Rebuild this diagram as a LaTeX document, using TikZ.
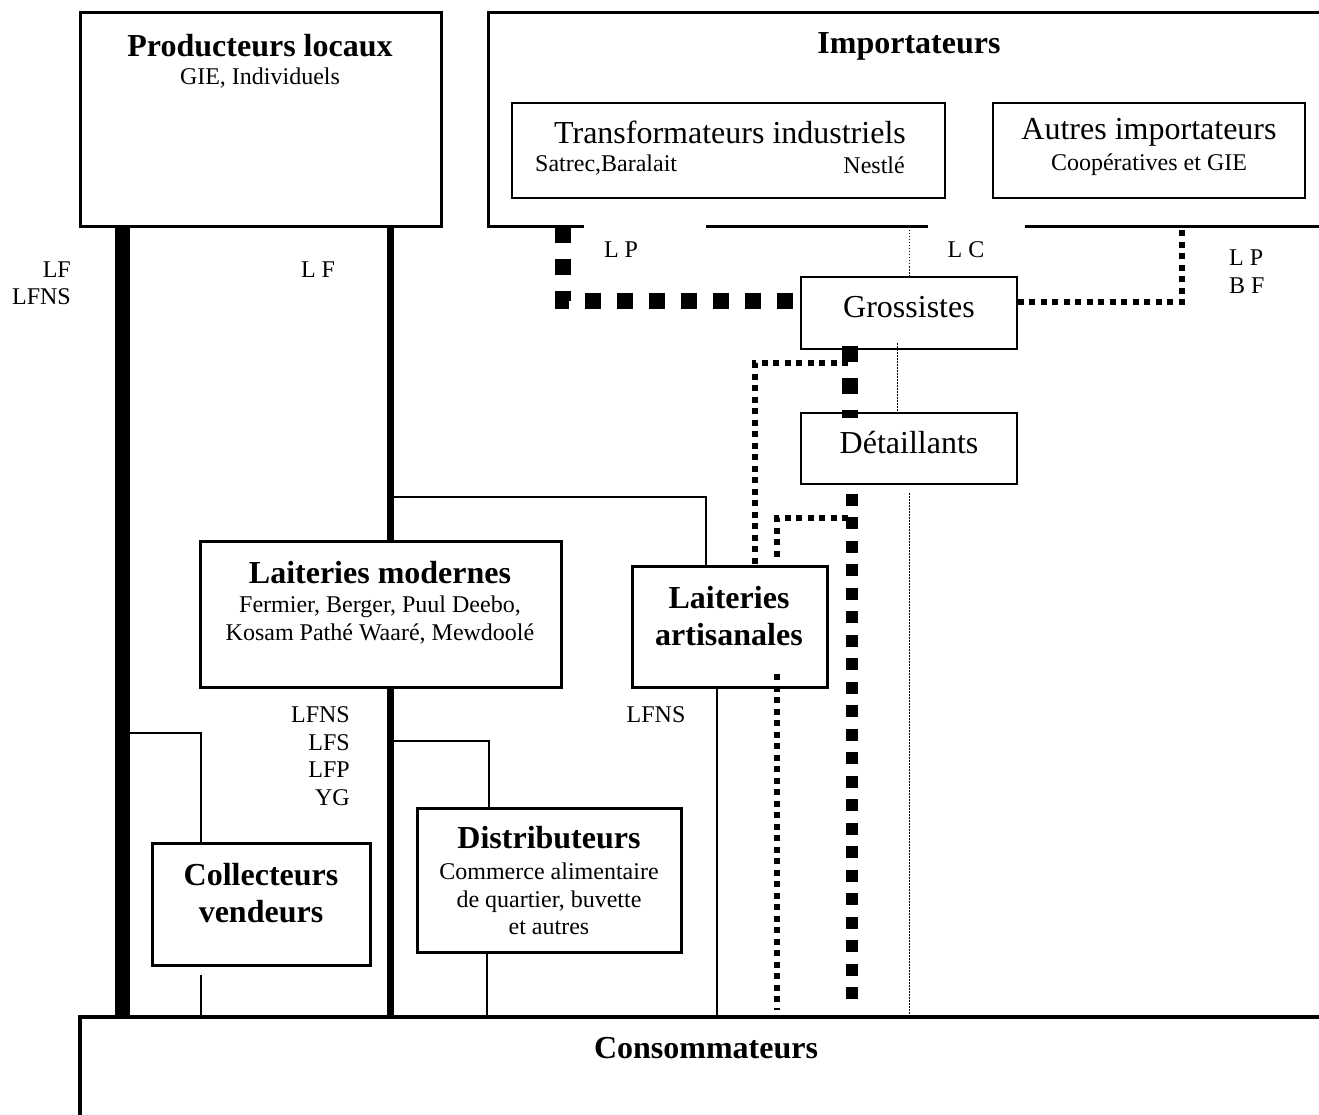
\documentclass[tikz,border=0pt]{standalone}
\usepackage{fontspec}
\setmainfont{Liberation Serif}
\usepackage{tikz}

\newcommand{\bigtxt}{\fontsize{32}{37}\selectfont}
\newcommand{\smalltxt}{\fontsize{24}{27.5}\selectfont}

\begin{document}
\begin{tikzpicture}[x=1pt,y=-1pt,
        box/.style={draw,line width=3pt,inner sep=0pt},
        thinbox/.style={draw,line width=1.2pt,inner sep=0pt},
        headline/.style={font=\bigtxt\bfseries,inner sep=0pt,align=center},
        bodytext/.style={font=\bigtxt,inner sep=0pt},
        lbl/.style={font=\smalltxt,inner sep=0pt,align=center},
        trunk/.style={line width=15pt},
        branch/.style={line width=7pt},
        link/.style={line width=1.2pt},
        flowA/.style={line width=16pt,dash pattern=on 16pt off 16pt},
        flowB/.style={line width=12pt,dash pattern=on 12pt off 11.5pt},
        flowM/.style={line width=6pt,dash pattern=on 6pt off 5.5pt},
        flowT/.style={line width=1pt,dash pattern=on 1.5pt off 1.5pt}]

    \useasboundingbox (0,0) rectangle (1319,1115);

    % boxes
    \node[box, minimum width=361pt, minimum height=214pt] (prod) at (260.5,120) {};
    \node[headline] (prodT) at (260,46) {Producteurs locaux};
    \node[lbl] (prodS) at (260,78) {GIE, Individuels};

    \node[thinbox, minimum width=433pt, minimum height=95pt] (trans) at (728.5,150.5) {};
    \node[bodytext] (transT) at (730,132) {Transformateurs industriels};
    \node[lbl, anchor=west] (transA) at (535,165) {Satrec,Baralait};
    \node[lbl, anchor=east] (transB) at (905,165) {Nestlé};

    \node[thinbox, minimum width=312pt, minimum height=95pt] (autres) at (1149,150.5) {};
    \node[bodytext] (autresT) at (1149,132) {Autres importateurs};
    \node[lbl] (autresS) at (1149,165) {Coopératives et GIE};

    \node[headline] (impT) at (909,46) {Importateurs};
    \draw[line width=3pt] (1325,13) -- (488,13) -- (488,227) -- (584,227);
    \draw[line width=3pt] (706,227) -- (928,227);
    \draw[line width=3pt] (1025,227) -- (1325,227);
    \coordinate (impLP) at (563,227);
    \coordinate (impLC) at (909,227);
    \coordinate (impBF) at (1182,227);

    \node[thinbox, minimum width=216pt, minimum height=72pt] (gros) at (909,313) {};
    \node[bodytext] (grosT) at (909,307) {Grossistes};
    \node[thinbox, minimum width=216pt, minimum height=71pt] (detail) at (909,448.5) {};
    \node[bodytext] (detailT) at (909,443) {Détaillants};

    \node[box, minimum width=361pt, minimum height=146pt] (lmod) at (380.5,614) {};
    \node[headline] (lmodT) at (380,573) {Laiteries modernes};
    \node[lbl] (lmodS) at (380,620) {Fermier, Berger, Puul Deebo,\\Kosam Pathé Waaré, Mewdoolé};

    \node[box, minimum width=195pt, minimum height=121pt] (lart) at (729.5,626.5) {};
    \node[headline] (lartT) at (729,616) {Laiteries\\artisanales};

    \node[box, minimum width=218pt, minimum height=122pt] (coll) at (261,904) {};
    \node[headline] (collT) at (261,893) {Collecteurs\\vendeurs};

    \node[box, minimum width=264pt, minimum height=144pt] (dist) at (549,880) {};
    \node[headline] (distT) at (549,838) {Distributeurs};
    \node[lbl] (distS) at (549,899) {Commerce alimentaire\\de quartier, buvette\\et autres};

    \node[headline] (cons) at (706,1048) {Consommateurs};
    \coordinate (consL) at (80,1017);
    \draw[line width=3.5pt] (80,1120) -- (consL) -- (1325,1017);

    % milk lines
    \draw[trunk] (prod.south -| 122,0) -- (122,0 |- consL);
    \draw[branch] (prod.south -| 390,0) -- (lmod.north -| 390,0);
    \draw[branch] (lmod.south -| 390,0) -- (390,0 |- consL);

    \draw[link] (130,733) -| (coll.north -| 201,0);
    \draw[link] (coll.south -| 201,0) ++(0,8) -- (201,0 |- consL);
    \draw[link] (394,741) -| (dist.north -| 489,0);
    \draw[link] (dist.south -| 487,0) -- (487,0 |- consL);
    \draw[link] (394,497) -| (lart.north -| 706,0);
    \draw[link] (lart.south -| 717,0) -- (717,0 |- consL);

    % imported powder
    \draw[flowA] (impLP) -- (563,301) -- (gros.west |- 0,301);
    \draw[flowA] (gros.south -| 850,0) ++(0,-4) -- (850,418);
    \draw[flowB] (detail.south -| 852,0) ++(0,9) -- (852,1010);
    \draw[flowM] (gros.east |- 0,302) -| (impBF);
    \draw[flowM] (848,363) -| (lart.north -| 755,0);
    \draw[flowM] (848,518) -| (777,560);
    \draw[flowM] (777,674) -- (777,1010);
    \draw[flowT] (impLC) -- (gros.north);
    \draw[flowT] (897,343) -- (detail.north -| 897,0);
    \draw[flowT] (909,493) -- (909,0 |- consL);

    % labels
    \node[lbl, align=right, anchor=east] (lfA) at (71,283.5) {LF\\LFNS};
    \node[lbl] (lfB) at (318,270) {L F};
    \node[lbl] (lp) at (621,250) {L P};
    \node[lbl] (lc) at (966,250) {L C};
    \node[lbl, align=left, anchor=west] (lpbf) at (1229,271.5) {L P\\B F};
    \node[lbl, align=right, anchor=east] (lfmod) at (350,756) {LFNS\\LFS\\LFP\\YG};
    \node[lbl] (lfart) at (656,715) {LFNS};

\end{tikzpicture}
\end{document}
